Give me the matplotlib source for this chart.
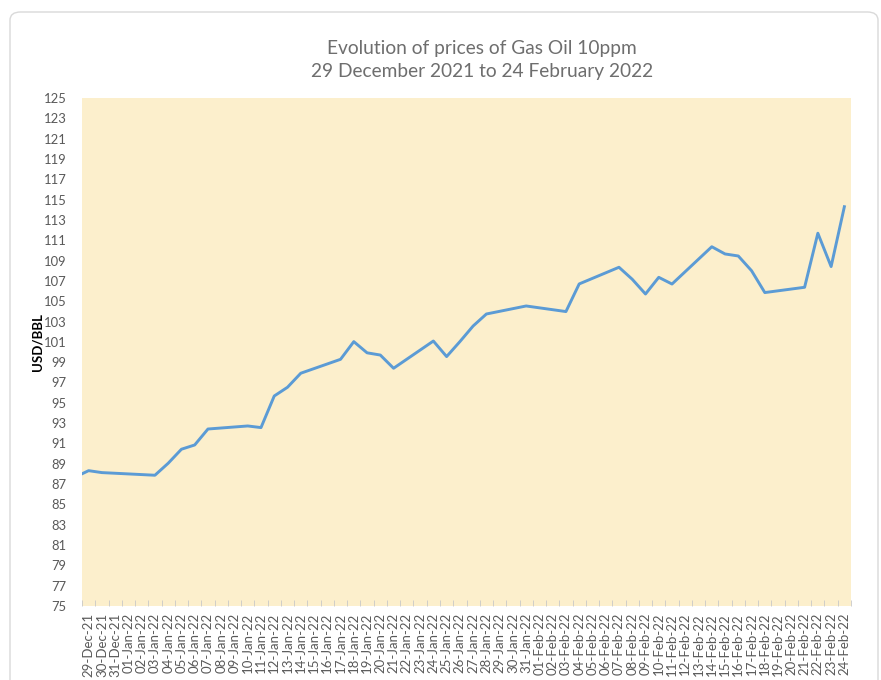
import matplotlib
matplotlib.use("Agg")
import matplotlib.pyplot as plt
from matplotlib.patches import FancyBboxPatch
import pandas as pd

# Gas Oil 10ppm prices (USD/BBL), trading days only
dates = ["2021-12-28", "2021-12-29", "2021-12-30", "2022-01-03", "2022-01-04",
         "2022-01-05", "2022-01-06", "2022-01-07", "2022-01-10", "2022-01-11",
         "2022-01-12", "2022-01-13", "2022-01-14", "2022-01-17", "2022-01-18",
         "2022-01-19", "2022-01-20", "2022-01-21", "2022-01-24", "2022-01-25",
         "2022-01-26", "2022-01-27", "2022-01-28", "2022-01-31", "2022-02-03",
         "2022-02-04", "2022-02-07", "2022-02-08", "2022-02-09", "2022-02-10",
         "2022-02-11", "2022-02-14", "2022-02-15", "2022-02-16", "2022-02-17",
         "2022-02-18", "2022-02-21", "2022-02-22", "2022-02-23", "2022-02-24"]
prices = [87.70, 88.32, 88.13, 87.87, 89.05,
          90.43, 90.85, 92.42, 92.72, 92.56,
          95.67, 96.53, 97.91, 99.28, 101.02,
          99.92, 99.70, 98.40, 101.08, 99.55,
          101.02, 102.56, 103.74, 104.53, 103.98,
          106.70, 108.34, 107.16, 105.71, 107.35,
          106.69, 110.36, 109.65, 109.45, 108.00,
          105.85, 106.37, 111.69, 108.41, 114.30]

axis_start = "2021-12-29"
axis_end = "2022-02-24"
y_ticks = list(range(75, 126, 2))

title = "Evolution of prices of Gas Oil 10ppm\n29 December 2021 to 24 February 2022"
y_label = "USD/BBL"

W, H = 881, 680
plt.rcParams['font.family'] = ['Lato', 'DejaVu Sans']
fig = plt.figure(figsize=(W / 100, H / 100), dpi=100)

# card border behind everything
card = FancyBboxPatch((10 / W, 1 - 700 / H), 868 / W, 688 / H,
                      boxstyle="round,pad=0,rounding_size=0.012",
                      transform=fig.transFigure, facecolor="white",
                      edgecolor="#d9d9d9", linewidth=1.0, zorder=-5)
fig.patches.append(card)

left, right, top, bottom = 82, 851, 98, 606
ax = fig.add_axes([left / W, 1 - bottom / H, (right - left) / W, (bottom - top) / H])
ax.set_zorder(2)
ax.set_facecolor("#fcefcc")

x = pd.to_datetime(dates)
ax.plot(x, prices, color="#5b9bd5", linewidth=2.1, solid_joinstyle="round")

day_range = pd.date_range(axis_start, axis_end, freq="D")
half = pd.Timedelta(hours=12)
ax.set_xlim(day_range[0] - half, day_range[-1] + half)
ax.set_ylim(75, 125)

ax.set_xticks(day_range)
ax.set_xticklabels([d.strftime("%d-%b-%y") for d in day_range], rotation=90,
                   fontsize=9.5, color="#595959")
ax.set_xticks(list(day_range - half) + [day_range[-1] + half], minor=True)
ax.tick_params(axis="x", which="major", length=0, pad=5)
ax.tick_params(axis="x", which="minor", length=4, direction="in", color="#c8c8c8")

ax.set_yticks(y_ticks)
ax.set_yticklabels([str(v) for v in y_ticks], fontsize=9.4, color="#595959")
ax.tick_params(axis="y", length=0, pad=11)

for s in ax.spines.values():
    s.set_visible(False)

ax.set_ylabel(y_label, fontsize=9.5, fontweight="bold", color="black")
ax.yaxis.set_label_coords(-0.050, 0.52)

fig.text(482 / W, 1 - 60 / H, title, ha="center", va="center", fontsize=13.8,
         color="#6e6e6e", linespacing=1.45)

fig.savefig("out.png", dpi=100)
